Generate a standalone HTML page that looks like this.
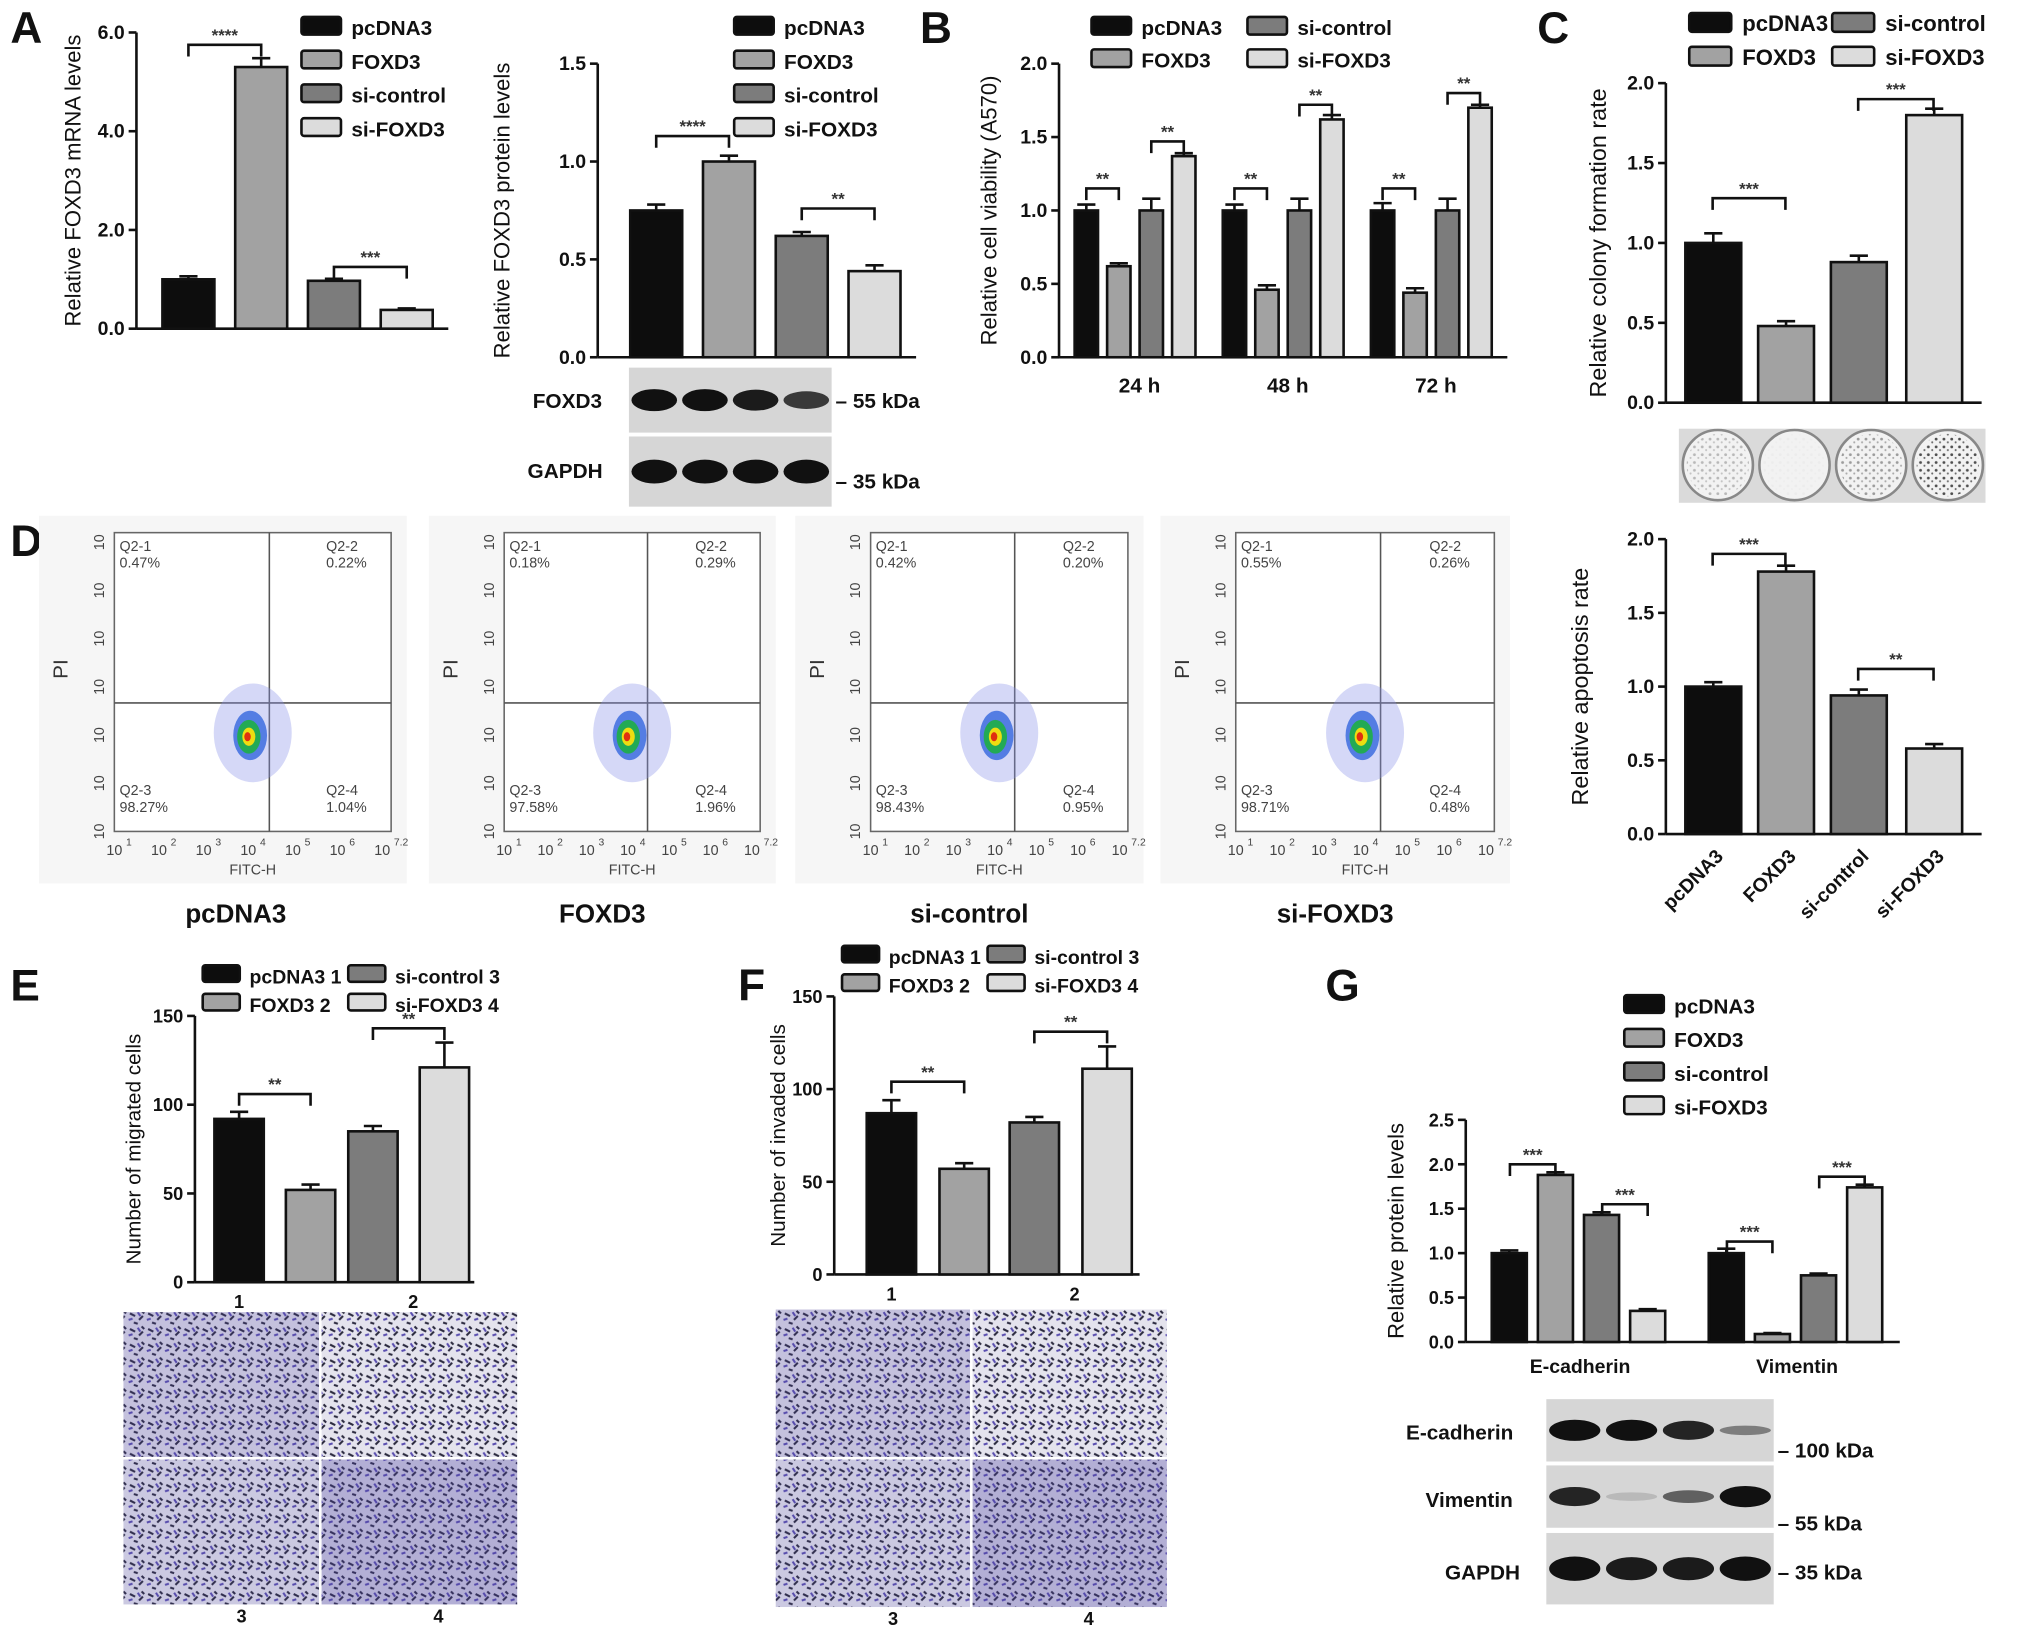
<!DOCTYPE html>
<html><head><meta charset="utf-8"><style>
html,body{margin:0;padding:0;background:#fff}
svg{display:block;font-family:"Liberation Sans",Arial,sans-serif}
</style></head><body>
<svg id="fig" width="2031" height="1633" viewBox="0 0 1563 1257" preserveAspectRatio="none" xmlns="http://www.w3.org/2000/svg">
<defs>
<pattern id="cells" width="14" height="12" patternUnits="userSpaceOnUse">
<rect width="14" height="12" fill="#ececf2"/>
<path d="M2 3l4 2M9 8l3-3M5 10l3 1M11 1l2 2" stroke="#2a2a3a" stroke-width="1.6"/>
<path d="M1 8l3-1M8 2l2 3" stroke="#5a4fb0" stroke-width="1.6"/>
</pattern>
<pattern id="dots" width="6" height="6" patternUnits="userSpaceOnUse">
<circle cx="2" cy="2" r="1.1" fill="#333"/><circle cx="5" cy="4.5" r="0.8" fill="#555"/>
</pattern>
</defs>
<g id="static"></g>
</svg>
<script>
// ---- data ----
const groups = ["pcDNA3","FOXD3","si-control","si-FOXD3"];
const colors = ["#0d0d0d","#a2a2a2","#7c7c7c","#dcdcdc"];
const mrnaVals = [1.0,5.3,0.97,0.38];
const mrnaErr = [0.06,0.18,0.04,0.03];
const protVals = [0.75,1.0,0.62,0.44];
const protErr = [0.03,0.03,0.02,0.03];
const timeCats = ["24 h","48 h","72 h"];
const viabPc = [1.0,1.0,1.0];
const viabFox = [0.62,0.46,0.44];
const viabSiC = [1.0,1.0,1.0];
const viabSiF = [1.37,1.62,1.70];
const colonyVals = [1.0,0.48,0.88,1.80];
const colonyErr = [0.06,0.03,0.04,0.04];
const apopVals = [1.0,1.78,0.94,0.58];
const apopErr = [0.03,0.04,0.04,0.03];
const migVals = [92,52,85,121];
const migErr = [4,3,3,14];
const invVals = [87,57,82,111];
const invErr = [7,3,3,12];
const emtCats = ["E-cadherin","Vimentin"];
const emtPc = [1.0,1.0];
const emtFox = [1.88,0.09];
const emtSiC = [1.43,0.75];
const emtSiF = [0.35,1.74];
const flowQ = [["0.47%","0.22%","98.27%","1.04%"],["0.18%","0.29%","97.58%","1.96%"],["0.42%","0.20%","98.43%","0.95%"],["0.55%","0.26%","98.71%","0.48%"]];

const NS="http://www.w3.org/2000/svg";
const root=document.getElementById('fig');
function el(tag,attrs,parent,txt){const e=document.createElementNS(NS,tag);for(const k in attrs)e.setAttribute(k,attrs[k]);if(txt!==undefined)e.textContent=txt;(parent||root).appendChild(e);return e;}
function txt(x,y,s,size,opts,parent){opts=opts||{};const t=el('text',{x:x,y:y,'font-size':size,'font-weight':opts.w||'bold','text-anchor':opts.a||'start',fill:opts.f||'#111'},parent,s);if(opts.r)t.setAttribute('transform','rotate('+opts.r+' '+x+' '+y+')');return t;}

function axis(ax,name){
  const g=el('g',{});
  
  
  el('line',{x1:ax.x0,y1:ax.yb,x2:ax.x0,y2:ax.yt,stroke:'#111','stroke-width':2},g);
  el('line',{x1:ax.x0,y1:ax.yb,x2:ax.x1,y2:ax.yb,stroke:'#111','stroke-width':2},g);
  ax.ticks.forEach((v,i)=>{const y=ax.sy(v);el('line',{x1:ax.x0-6,y1:y,x2:ax.x0,y2:y,stroke:'#111','stroke-width':2},g);txt(ax.x0-9,y+5,ax.tl[i],ax.fs||15,{a:'end',n:'y-tick-label'},g);});
  if(ax.title)txt(ax.tx,(ax.yb+ax.yt)/2,ax.title,ax.tfs||17,{a:'middle',r:-90,n:'y-axis-title',w:ax.tw||'normal'},g);
  return g;
}
function mkAx(x0,x1,yb,yt,max,ticks,tl,title,tx,extra){const a=Object.assign({x0,x1,yb,yt,max,ticks,tl,title,tx},extra||{});a.sy=v=>yb-(v/max)*(yb-yt);return a;}
function bar(ax,x,w,v,err,col,name){
  const y=ax.sy(v);
  const r=el('rect',{x:x,y:y,width:w,height:ax.yb-y,fill:col,stroke:'#111','stroke-width':2});
  
  
  if(err){const ye=ax.sy(v+err);el('line',{x1:x+w/2,y1:y,x2:x+w/2,y2:ye,stroke:'#111','stroke-width':2});el('line',{x1:x+w/2-7,y1:ye,x2:x+w/2+7,y2:ye,stroke:'#111','stroke-width':2});}
}
function bracket(x1,x2,y,label){
  const g=el('g',{});
  
  
  el('path',{d:`M${x1} ${y+9}V${y}H${x2}V${y+9}`,fill:'none',stroke:'#111','stroke-width':2},g);
  txt((x1+x2)/2,y-3,label,13,{a:'middle',n:'significance-stars',f:'#333'},g);
}
function legend(items,x,y,dy,size,name){
  items.forEach((it,i)=>{const g=el('g',{});
    el('rect',{x:it.x!==undefined?it.x:x,y:(it.y!==undefined?it.y:y+i*dy)-12,width:size*1.9,height:size*0.85,fill:it.c,stroke:'#111','stroke-width':2,rx:2},g);
    txt((it.x!==undefined?it.x:x)+size*2.4,(it.y!==undefined?it.y:y+i*dy)+2,it.t,size,{n:'legend-label'},g);});
}
function blot(x,y,w,h,bands,name){
  const g=el('g',{});
  el('rect',{x:x,y:y,width:w,height:h,fill:'#d6d6d6'},g);
  const lw=w/4;bands.forEach((b,i)=>{if(b>0)el('ellipse',{cx:x+lw*(i+0.5),cy:y+h/2,rx:lw*0.45,ry:h*0.17*Math.max(b,0.4),fill:'#111','fill-opacity':Math.min(1,b)},g);});
}
function panelLetter(s,x,y){txt(x,y,s,34,{n:'panel-label-'+s.toLowerCase()});}

// ===== Panel A mRNA =====
panelLetter('A',8,33);
let ax=mkAx(105,345,253,25,6,[0,2,4,6],["0.0","2.0","4.0","6.0"],"Relative FOXD3 mRNA levels",62,{tw:'normal'});
axis(ax,'mrna');
const aX=[125,181,237,293];
mrnaVals.forEach((v,i)=>bar(ax,aX[i],40,v,mrnaErr[i],colors[i],'mrna-bar-'+groups[i]));
bracket(145,201,ax.sy(5.75),'****');bracket(257,313,ax.sy(1.25),'***');
legend(groups.map((g,i)=>({t:g,c:colors[i]})),232,25,26,16,'legend-a1');

// ===== Panel A protein =====
ax=mkAx(460,705,275,49,1.5,[0,0.5,1,1.5],["0.0","0.5","1.0","1.5"],"Relative FOXD3 protein levels",392);
axis(ax,'protein');
const pX=[485,541,597,653];
protVals.forEach((v,i)=>bar(ax,pX[i],40,v,protErr[i],colors[i],'protein-bar-'+groups[i]));
bracket(505,561,ax.sy(1.13),'****');bracket(617,673,ax.sy(0.76),'**');
legend(groups.map((g,i)=>({t:g,c:colors[i]})),565,25,26,16,'legend-a2');
blot(484,283,156,50,[1,1,0.95,0.8],'foxd3-blot');
blot(484,336,156,54,[1,1,1,1],'gapdh-blot');
txt(410,314,'FOXD3',16,{n:'blot-label'});txt(406,368,'GAPDH',16,{n:'blot-label'});
txt(643,314,'– 55 kDa',16,{n:'kda-label'});txt(643,376,'– 35 kDa',16,{n:'kda-label'});

// ===== Panel B =====
panelLetter('B',708,33);
ax=mkAx(815,1160,275,49,2,[0,0.5,1,1.5,2],["0.0","0.5","1.0","1.5","2.0"],"Relative cell viability (A570)",767);
axis(ax,'viability');
const series=[viabPc,viabFox,viabSiC,viabSiF];
const bErr=[[0.04,0.04,0.05],[0.02,0.03,0.03],[0.08,0.08,0.08],[0.02,0.03,0.02]];
timeCats.forEach((c,gi)=>{const cx=877+gi*114;
  series.forEach((s,si)=>bar(ax,cx-50+si*25,18,s[gi],bErr[si][gi],colors[si],'viability-bar-'+c.replace(' ','')+'-'+groups[si]));
  txt(cx,302,c,16,{a:'middle',n:'x-tick-label'});
  bracket(cx-41,cx-16,ax.sy(1.15),'**');bracket(cx+9,cx+34,ax.sy(Math.max(1.15,series[3][gi]+0.1)),'**');
});
legend([{t:'pcDNA3',c:colors[0],x:840,y:25},{t:'FOXD3',c:colors[1],x:840,y:50},{t:'si-control',c:colors[2],x:960,y:25},{t:'si-FOXD3',c:colors[3],x:960,y:50}],0,0,0,16,'legend-b');

// ===== Panel C =====
panelLetter('C',1183,33);
ax=mkAx(1282,1525,310,64,2,[0,0.5,1,1.5,2],["0.0","0.5","1.0","1.5","2.0"],"Relative colony formation rate",1236,{tfs:18});
axis(ax,'colony');
const cX=[1297,1353,1409,1467];
colonyVals.forEach((v,i)=>bar(ax,cX[i],43,v,colonyErr[i],colors[i],'colony-bar-'+groups[i]));
bracket(1318,1374,ax.sy(1.28),'***');bracket(1430,1488,ax.sy(1.9),'***');
legend([{t:'pcDNA3',c:colors[0],x:1300,y:22},{t:'FOXD3',c:colors[1],x:1300,y:48},{t:'si-control',c:colors[2],x:1410,y:22},{t:'si-FOXD3',c:colors[3],x:1410,y:48}],0,0,0,17,'legend-c');
(function(){const g=el('g',{});
el('rect',{x:1292,y:330,width:236,height:57,fill:'#dadada'},g);
const dens=[0.3,0.03,0.45,0.85];dens.forEach((d,i)=>{const cx=1322+i*59;el('circle',{cx:cx,cy:358,r:27,fill:'#f2f2f2',stroke:'#888','stroke-width':2},g);el('circle',{cx:cx,cy:358,r:24,fill:'url(#dots)','fill-opacity':d},g);});})();

// ===== Apoptosis =====
ax=mkAx(1282,1525,642,415,2,[0,0.5,1,1.5,2],["0.0","0.5","1.0","1.5","2.0"],"Relative apoptosis rate",1222,{tfs:18});
axis(ax,'apoptosis');
apopVals.forEach((v,i)=>{bar(ax,cX[i],43,v,apopErr[i],colors[i],'apoptosis-bar-'+groups[i]);txt(cX[i]+30,660,groups[i],15,{a:'end',r:-45,n:'x-tick-label'});});
bracket(1318,1374,ax.sy(1.9),'***');bracket(1430,1488,ax.sy(1.12),'**');

// ===== Panel D flow =====
panelLetter('D',8,428);
const fx=[30,330,612,893],fw=[283,267,268,269];
flowQ.forEach((q,i)=>{
  const g=el('g',{});
  const x=fx[i],w=fw[i];el('rect',{x:x,y:397,width:w,height:283,fill:'#f6f6f6'},g);
  const px=x+58,pw=w-70,py=410,ph=230;
  el('rect',{x:px,y:py,width:pw,height:ph,fill:'#fff',stroke:'#666','stroke-width':1.2},g);
  const qx=px+pw*0.56,qy=py+ph*0.57;
  el('line',{x1:qx,y1:py,x2:qx,y2:py+ph,stroke:'#555','stroke-width':1.2},g);
  el('line',{x1:px,y1:qy,x2:px+pw,y2:qy,stroke:'#555','stroke-width':1.2},g);
  const cx=px+pw*0.50,cy=py+ph*0.67;
  el('ellipse',{cx:cx,cy:cy,rx:30,ry:38,fill:'#8890e8','fill-opacity':0.35},g);
  el('ellipse',{cx:cx-2,cy:cy+2,rx:13,ry:19,fill:'#3366dd','fill-opacity':0.8},g);
  el('ellipse',{cx:cx-3,cy:cy+3,rx:9,ry:13,fill:'#22aa55'},g);
  el('ellipse',{cx:cx-3,cy:cy+3,rx:5,ry:7,fill:'#eedd11'},g);
  el('ellipse',{cx:cx-4,cy:cy+3,rx:2.5,ry:3.5,fill:'#e03010'},g);
  ['Q2-1',q[0]].forEach((s,k)=>txt(px+4,py+14+k*13,s,11,{w:'normal',f:'#444',n:'quadrant-label'},g));
  ['Q2-2',q[1]].forEach((s,k)=>txt(px+pw-50,py+14+k*13,s,11,{w:'normal',f:'#444',n:'quadrant-label'},g));
  ['Q2-3',q[2]].forEach((s,k)=>txt(px+4,py+ph-28+k*13,s,11,{w:'normal',f:'#444',n:'quadrant-label'},g));
  ['Q2-4',q[3]].forEach((s,k)=>txt(px+pw-50,py+ph-28+k*13,s,11,{w:'normal',f:'#444',n:'quadrant-label'},g));
  const exps=['1','2','3','4','5','6','7.2'];
  exps.forEach((e,k)=>{const tx=px+k*pw/6.2;txt(tx,py+ph+18,'10',11,{w:'normal',a:'middle',f:'#444',n:'x-tick-label'},g);txt(tx+9,py+ph+11,e,8,{w:'normal',f:'#444',n:'x-tick-exp'},g);
    const ty=py+ph-k*ph/6.2;txt(px-8,ty,'10',11,{w:'normal',a:'middle',r:-90,f:'#444',n:'y-tick-label'},g);});
  txt(px+pw/2,py+ph+33,'FITC-H',11,{w:'normal',a:'middle',f:'#444',n:'x-axis-title'},g);
  txt(x+22,py+ph/2-10,'PI',16,{w:'normal',a:'middle',r:-90,f:'#333',n:'y-axis-title'},g);
  txt(x+w/2+(i==0?10:0),710,groups[i],20,{a:'middle',n:'flow-group-label'},g);
});

// ===== Panel E / F =====
function transwell(axX,axW,yb,yt,vals,errs,title,tx,bx,letter,lx,imgX,imgY,imgW,imgH,nm){
  panelLetter(letter,lx,770);
  const a=mkAx(axX,axX+axW,yb,yt,150,[0,50,100,150],["0","50","100","150"],title,tx,{tfs:16,fs:14});
  axis(a,nm);
  vals.forEach((v,i)=>bar(a,bx[i],38,v,errs[i],colors[i],nm+'-bar-'+groups[i]));
  bracket(bx[0]+19,bx[1]+19,a.sy(vals[0]+errs[0]+10),'**');
  bracket(bx[2]+19,bx[3]+19,a.sy(vals[3]+errs[3]+8),'**');
  txt(bx[0]+19,yb+20,'1',14,{a:'middle',n:'x-tick-label'});txt(bx[2]+50,yb+20,'2',14,{a:'middle',n:'x-tick-label'});
  legend([{t:'pcDNA3 1',c:colors[0],x:axX+6,y:yt-27},{t:'FOXD3 2',c:colors[1],x:axX+6,y:yt-5},{t:'si-control 3',c:colors[2],x:axX+118,y:yt-27},{t:'si-FOXD3 4',c:colors[3],x:axX+118,y:yt-5}],0,0,0,15,'legend-'+nm);
  const g=el('g',{});
  const dens=[0.25,0.05,0.2,0.35];
  [[0,0],[1,0],[0,1],[1,1]].forEach((p,i)=>{const rx=imgX+p[0]*(imgW/2+1),ry=imgY+p[1]*(imgH/2+1);
    el('rect',{x:rx,y:ry,width:imgW/2-1,height:imgH/2-1,fill:'url(#cells)'},g);
    el('rect',{x:rx,y:ry,width:imgW/2-1,height:imgH/2-1,fill:'#4a40a0','fill-opacity':dens[i]},g);});
  txt(imgX+imgW*0.3,imgY+imgH+14,'3',14,{a:'middle',n:'image-label'});txt(imgX+imgW*0.8,imgY+imgH+14,'4',14,{a:'middle',n:'image-label'});
}
transwell(150,215,987,782,migVals,migErr,"Number of migrated cells",108,[165,220,268,323],'E',8,95,1010,303,225,'migration');
transwell(642,235,981,767,invVals,invErr,"Number of invaded cells",604,[667,723,777,833],'F',568,597,1008,301,229,'invasion');

// ===== Panel G =====
panelLetter('G',1020,770);
ax=mkAx(1128,1462,1033,862,2.5,[0,0.5,1,1.5,2,2.5],["0.0","0.5","1.0","1.5","2.0","2.5"],"Relative protein levels",1080,{tfs:17,fs:14});
axis(ax,'emt');
const emtS=[emtPc,emtFox,emtSiC,emtSiF];
const emtE=[[0.03,0.05],[0.03,0.01],[0.03,0.02],[0.02,0.03]];
emtCats.forEach((c,gi)=>{const x0=gi===0?1148:1315;
  emtS.forEach((s,si)=>bar(ax,x0+si*35.5,27,s[gi],emtE[si][gi],colors[si],'emt-bar-'+c+'-'+groups[si]));
  txt(x0+68,1057,c,15,{a:'middle',n:'x-tick-label'});
});
bracket(1162,1197,ax.sy(2.0),'***');bracket(1233,1268,ax.sy(1.55),'***');
bracket(1329,1364,ax.sy(1.13),'***');bracket(1400,1435,ax.sy(1.86),'***');
legend(groups.map((g,i)=>({t:g,c:colors[i]})),1250,778,26,16,'legend-g');
blot(1190,1077,175,48,[1,1,0.9,0.45],'ecadherin-blot');
blot(1190,1128,175,48,[0.9,0.15,0.6,1],'vimentin-blot');
blot(1190,1180,175,55,[1,0.95,0.95,1],'gapdh-blot-g');
txt(1082,1108,'E-cadherin',16,{n:'blot-label'});txt(1097,1160,'Vimentin',16,{n:'blot-label'});txt(1112,1216,'GAPDH',16,{n:'blot-label'});
txt(1368,1122,'– 100 kDa',16,{n:'kda-label'});txt(1368,1178,'– 55 kDa',16,{n:'kda-label'});txt(1368,1216,'– 35 kDa',16,{n:'kda-label'});
</script>
</body></html>
